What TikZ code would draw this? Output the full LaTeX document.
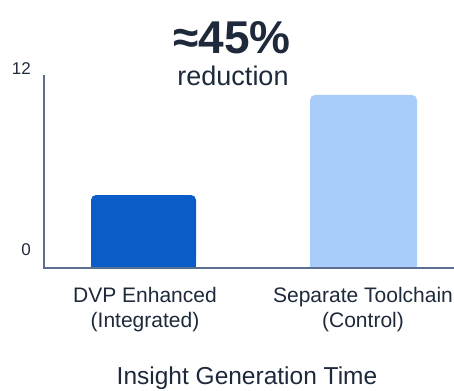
\documentclass[tikz,border=0pt]{standalone}
\usepackage{fontspec}
\setmainfont{Liberation Sans}
\definecolor{txt}{HTML}{1E2A3B}
\definecolor{axisc}{HTML}{5B7090}
\definecolor{barA}{HTML}{0A5CC8}
\definecolor{barB}{HTML}{A8CDFA}
\begin{document}
\begin{tikzpicture}[x=1pt,y=-1pt,
  lbl/.style={text=txt,font=\fontsize{21}{25}\selectfont,align=center,inner sep=0pt},
  tick/.style={text=txt,font=\fontsize{17}{20}\selectfont,inner sep=0pt},
  axisline/.style={draw=axisc,line width=1.1pt}]
\useasboundingbox (0,0) rectangle (454,390);
\fill[white] (0,0) rectangle (454,390);
% bars
\fill[barA,rounded corners=5pt] (91,268) -- (91,195) -- (196,195) -- (196,268) -- cycle;
\fill[barA] (91,260) rectangle (196,268);
\fill[barB,rounded corners=5pt] (310,268) -- (310,95) -- (417,95) -- (417,268) -- cycle;
\fill[barB] (310,260) rectangle (417,268);
% axes
\coordinate (ytop) at (44,75);
\coordinate (org) at (44,268);
\coordinate (xend) at (454,268);
\draw[axisline] (ytop) -- (org) -- (xend);
% ticks
\node[tick,anchor=east] (t12) at (31,69) {12};
\node[tick,anchor=east] (t0) at (31,250) {0};
% title
\node[text=txt,font=\bfseries\fontsize{46}{50}\selectfont,inner sep=0pt] (pct) at (232,38) {≈45\%};
\node[text=txt,font=\fontsize{27}{30}\selectfont,inner sep=0pt] (red) at (233,76) {reduction};
% labels
\node[lbl] (l1) at (145,310) {DVP Enhanced\\(Integrated)};
\node[lbl] (l2) at (363,310) {Separate Toolchain\\(Control)};
\node[text=txt,font=\fontsize{24.5}{28}\selectfont,inner sep=0pt] (xt) at (247,378) {Insight Generation Time};
\end{tikzpicture}
\end{document}
